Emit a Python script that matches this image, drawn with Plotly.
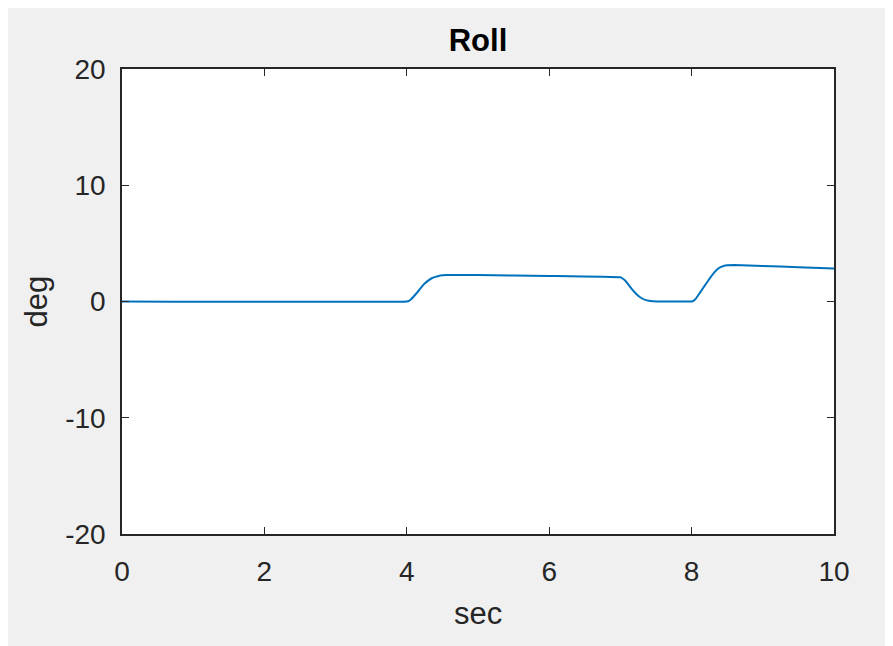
import plotly.graph_objects as go

# Data
time_s = [0.0, 4.0, 4.03, 4.06, 4.1, 4.15, 4.2, 4.25, 4.3, 4.35, 4.4, 4.45, 4.5, 4.56,
          5.0, 6.0, 7.0, 7.03, 7.07, 7.1, 7.15, 7.2, 7.25, 7.3, 7.35, 7.4, 7.45, 7.5, 7.6, 7.7, 8.0,
          8.03, 8.06, 8.1, 8.15, 8.2, 8.25, 8.3, 8.35, 8.4, 8.45, 8.5, 8.6, 9.0, 9.5, 10.0]
roll_deg = [0.0, 0.0, 0.06, 0.2, 0.45, 0.8, 1.2, 1.55, 1.8, 2.0, 2.12, 2.2, 2.25, 2.28,
            2.27, 2.2, 2.08, 1.98, 1.78, 1.55, 1.15, 0.8, 0.5, 0.28, 0.14, 0.07, 0.03, 0.01, 0.0, 0.0, 0.0,
            0.08, 0.25, 0.6, 1.05, 1.5, 1.95, 2.35, 2.7, 2.93, 3.05, 3.11, 3.14, 3.05, 2.95, 2.83]
x_ticks = [0, 2, 4, 6, 8, 10]
y_ticks = [-20, -10, 0, 10, 20]
y_tick_text = ["-20", "-10", "0", "10", "20"]

# page body has an 8px margin; figure coordinates = reference pixel - 8
OFF = 8
W, H = 884, 638
L, R, T, B = 122 - OFF, W - (834 - OFF), 69 - OFF, H - (534 - OFF)
pw, ph = W - L - R, H - T - B

def px(xr):
    return (xr - OFF - L) / pw

def py(yr):
    return (H - B - (yr - OFF)) / ph

axcol = "#262626"
font = "Liberation Sans, Arial, Helvetica, sans-serif"

fig = go.Figure()
fig.add_trace(go.Scatter(x=time_s, y=roll_deg, mode="lines",
                         line=dict(color="#0072BD", width=2, shape="spline", smoothing=0.3),
                         showlegend=False, hoverinfo="skip"))

fig.update_layout(
    width=W, height=H,
    margin=dict(l=L, r=R, t=T, b=B),
    paper_bgcolor="#f0f0f0",
    plot_bgcolor="white",
    font=dict(family=font, color=axcol, size=28),
    title=dict(text="<b>Roll</b>", x=(L + pw / 2) / W, xref="container", xanchor="center",
               y=1 - (40 - OFF) / H, yref="container", yanchor="middle",
               font=dict(size=31, color="#000000", family=font)),
    annotations=[
        dict(text="sec", xref="paper", yref="paper", x=0.5, y=py(613),
             xanchor="center", yanchor="middle", showarrow=False,
             font=dict(size=31, color=axcol, family=font)),
        dict(text="deg", xref="paper", yref="paper", x=px(36), y=0.5,
             xanchor="center", yanchor="middle", showarrow=False, textangle=-90,
             font=dict(size=31, color=axcol, family=font)),
    ],
)

fig.update_xaxes(range=[0, 10], tickvals=x_ticks, ticks="inside", ticklen=7,
                 tickwidth=1.3, tickcolor=axcol, showline=True, linecolor=axcol,
                 linewidth=1.6, mirror="ticks", showgrid=False, zeroline=False,
                 ticklabelstandoff=12, tickfont=dict(size=28, color=axcol))
fig.update_yaxes(range=[-20, 20], tickvals=y_ticks, ticktext=y_tick_text,
                 ticks="inside", ticklen=7,
                 tickwidth=1.3, tickcolor=axcol, showline=True, linecolor=axcol,
                 linewidth=1.6, mirror="ticks", showgrid=False, zeroline=False,
                 ticklabelstandoff=9, tickfont=dict(size=28, color=axcol))

fig.write_html("out.html")
